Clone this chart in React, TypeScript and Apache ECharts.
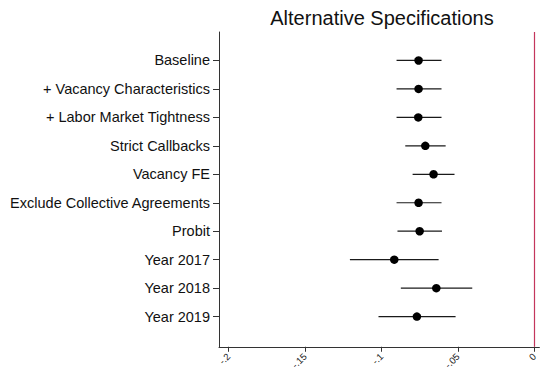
import React, { useEffect, useRef } from "react";
import * as echarts from "echarts";

const categories = [
  "Baseline",
  "+ Vacancy Characteristics",
  "+ Labor Market Tightness",
  "Strict Callbacks",
  "Vacancy FE",
  "Exclude Collective Agreements",
  "Probit",
  "Year 2017",
  "Year 2018",
  "Year 2019",
];
const estimates = [-0.0757, -0.0757, -0.0759, -0.0713, -0.0659, -0.0757, -0.075, -0.0916, -0.0641, -0.0768];
const ciLow = [-0.0901, -0.0901, -0.0901, -0.0844, -0.0796, -0.0901, -0.0895, -0.1206, -0.0873, -0.1019];
const ciHigh = [-0.0607, -0.0607, -0.0607, -0.058, -0.0522, -0.0607, -0.0604, -0.0626, -0.0406, -0.0515];
const xTicks = [-0.2, -0.15, -0.1, -0.05, 0];
const xTickLabels = ["-.2", "-.15", "-.1", "-.05", "0"];
const title = "Alternative Specifications";

export default function App() {
  const ref = useRef<HTMLDivElement>(null);
  useEffect(() => {
    if (!ref.current) return;
    const chart = echarts.init(ref.current, null, { renderer: "svg" });
    const font = "'Liberation Sans', Arial, sans-serif";
    const positions = categories.map((_, i) => i + 1);
    chart.setOption({
      animation: false,
      backgroundColor: "#ffffff",
      graphic: [
        {
          type: "text",
          x: 382,
          y: 18,
          style: {
            text: title,
            fill: "#111",
            font: `20px ${font}`,
            textAlign: "center",
            textVerticalAlign: "middle",
          },
        },
      ],
      grid: { left: 219, top: 32, width: 321, height: 320.7, containLabel: false },
      xAxis: {
        type: "value",
        min: -0.2062,
        max: 0.0033,
        splitLine: { show: false },
        axisLine: { show: true, onZero: false, lineStyle: { color: "#333", width: 1 } },
        axisTick: {
          show: true,
          length: 5,
          customValues: xTicks,
          lineStyle: { color: "#333", width: 1 },
        },
        axisLabel: {
          show: true,
          customValues: xTicks,
          rotate: 45,
          margin: 8,
          fontSize: 9.5,
          color: "#222",
          fontFamily: font,
          formatter: (v: number) => {
            const idx = xTicks.findIndex((t) => Math.abs(t - v) < 1e-6);
            return idx >= 0 ? xTickLabels[idx] : "";
          },
        },
      },
      yAxis: {
        type: "value",
        inverse: true,
        min: 0,
        max: 11.06,
        splitLine: { show: false },
        axisLine: { show: true, onZero: false, lineStyle: { color: "#333", width: 1 } },
        axisTick: {
          show: true,
          length: 6,
          customValues: positions,
          lineStyle: { color: "#333", width: 1 },
        },
        axisLabel: {
          show: true,
          customValues: positions,
          margin: 9,
          fontSize: 14.5,
          color: "#111",
          fontFamily: font,
          formatter: (v: number) => categories[Math.round(v) - 1] ?? "",
        },
      },
      series: [
        {
          type: "custom",
          data: categories.map((_, i) => [ciLow[i], ciHigh[i], i + 1]),
          encode: { x: [0, 1], y: 2 },
          renderItem: (params: any, api: any) => {
            const p1 = api.coord([api.value(0), api.value(2)]);
            const p2 = api.coord([api.value(1), api.value(2)]);
            return {
              type: "line",
              shape: { x1: p1[0], y1: p1[1], x2: p2[0], y2: p2[1] },
              style: { stroke: "#1a1a1a", lineWidth: 1.2 },
            };
          },
          z: 2,
        },
        {
          type: "scatter",
          data: categories.map((_, i) => [estimates[i], i + 1]),
          symbol: "circle",
          symbolSize: 8.5,
          itemStyle: { color: "#000", opacity: 1 },
          z: 3,
          markLine: {
            silent: true,
            symbol: "none",
            label: { show: false },
            lineStyle: { color: "#c4365c", width: 1.2, type: "solid" },
            data: [{ xAxis: 0 }],
          },
        },
      ],
    });
    return () => chart.dispose();
  }, []);
  return (
    <div
      ref={ref}
      style={{ position: "fixed", left: 0, top: 0, width: 540, height: 372 }}
    />
  );
}
